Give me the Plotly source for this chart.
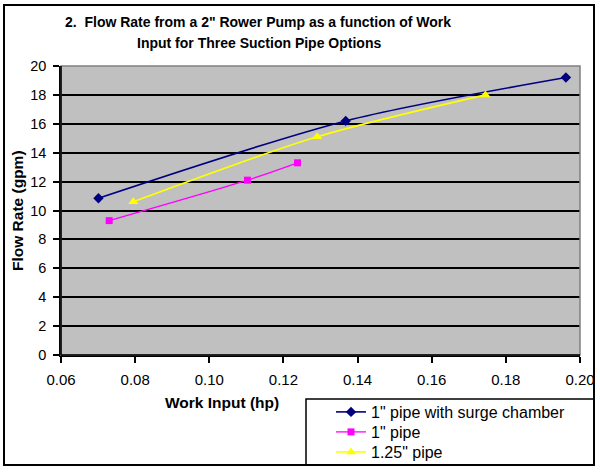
import plotly.graph_objects as go

# Data
surge_x = [0.0701, 0.1368, 0.1962]
surge_y = [10.85, 16.2, 19.2]

pipe1_x = [0.0730, 0.1103, 0.1238]
pipe1_y = [9.3, 12.1, 13.3]

pipe125_x = [0.0795, 0.1291, 0.1745]
pipe125_y = [10.6, 15.1, 18.0]

x_ticks = [0.06, 0.08, 0.10, 0.12, 0.14, 0.16, 0.18, 0.20]
y_ticks = [0, 2, 4, 6, 8, 10, 12, 14, 16, 18, 20]

title_lines = ['2.  Flow Rate from a 2" Rower Pump as a function of Work',
               'Input for Three Suction Pipe Options']

W, H = 600, 472
L, R, T, B = 61, 580, 66, 355


def px(xp):
    return (xp - L) / (R - L)


def py(yp):
    return (B - yp) / (B - T)


fig = go.Figure()
fig.add_trace(go.Scatter(
    x=surge_x, y=surge_y, name='1" pipe with surge chamber', mode="lines+markers",
    line=dict(color="#000080", width=1.6, shape="spline", smoothing=0.8),
    marker=dict(symbol="diamond", size=8, color="#000080"), legend="legend"))
fig.add_trace(go.Scatter(
    x=pipe1_x, y=pipe1_y, name='1" pipe', mode="lines+markers",
    line=dict(color="#FF00FF", width=1.3, shape="spline", smoothing=0.8),
    marker=dict(symbol="square", size=7, color="#FF00FF"), legend="legend2"))
fig.add_trace(go.Scatter(
    x=pipe125_x, y=pipe125_y, name='1.25" pipe', mode="lines+markers",
    line=dict(color="#FFFF00", width=1.6, shape="spline", smoothing=0.8),
    marker=dict(symbol="triangle-up", size=9, color="#FFFF00"), legend="legend3"))

font = "Arial, Liberation Sans, sans-serif"


def leg(row_y):
    return dict(
        x=px(331), y=py(row_y), xanchor="left", yanchor="middle",
        bgcolor="rgba(0,0,0,0)", borderwidth=0,
        font=dict(family=font, size=16, color="black"),
        itemwidth=30,
    )


fig.update_layout(
    width=W, height=H,
    margin=dict(l=L, r=W - R, t=T, b=H - B, pad=0, autoexpand=False),
    paper_bgcolor="white",
    plot_bgcolor="#C0C0C0",
    font=dict(family=font, size=12, color="black"),
    showlegend=True,
    legend=leg(412),
    legend2=leg(432),
    legend3=leg(452),
    xaxis=dict(
        range=[0.06, 0.20], tickvals=x_ticks, ticktext=[f"{v:.2f}" for v in x_ticks],
        showgrid=False, zeroline=False, automargin=False,
        showline=True, linecolor="black", linewidth=1.5,
        ticks="outside", ticklen=6, tickwidth=1.5, tickcolor="black",
        ticklabelstandoff=4,
        tickfont=dict(family=font, size=15, color="black"),
    ),
    yaxis=dict(
        range=[0, 20], tickvals=y_ticks, automargin=False,
        showgrid=True, gridcolor="black", gridwidth=1.5, zeroline=False,
        showline=True, linecolor="black", linewidth=1.5,
        ticks="outside", ticklen=6, tickwidth=1.5, tickcolor="black",
        ticklabelstandoff=4,
        tickfont=dict(family=font, size=14.5, color="black"),
    ),
    shapes=[
        dict(type="rect", xref="paper", yref="paper", x0=0, y0=0, x1=1, y1=1,
             line=dict(color="#808080", width=1.5), layer="above"),
        dict(type="line", xref="paper", yref="paper", x0=0, y0=0, x1=0, y1=1,
             line=dict(color="black", width=1.5), layer="above"),
        dict(type="line", xref="paper", yref="paper", x0=0, y0=0, x1=1, y1=0,
             line=dict(color="black", width=1.5), layer="above"),
        dict(type="rect", xref="paper", yref="paper",
             x0=px(4), y0=py(465), x1=px(594), y1=py(5),
             line=dict(color="black", width=2), layer="above"),
        dict(type="rect", xref="paper", yref="paper",
             x0=px(306), y0=py(465), x1=px(594), y1=py(399),
             line=dict(color="black", width=1.5), layer="above"),
    ],
    annotations=[
        dict(text=f"<b>{title_lines[0]}</b>",
             xref="paper", yref="paper", x=px(258), y=py(22), xanchor="center", yanchor="middle",
             showarrow=False, font=dict(family=font, size=14, color="black")),
        dict(text=f"<b>{title_lines[1]}</b>",
             xref="paper", yref="paper", x=px(259), y=py(43), xanchor="center", yanchor="middle",
             showarrow=False, font=dict(family=font, size=14, color="black")),
        dict(text="<b>Work Input (hp)</b>", xref="paper", yref="paper",
             x=px(222), y=py(403), xanchor="center", yanchor="middle",
             showarrow=False, font=dict(family=font, size=15.5, color="black")),
        dict(text="<b>Flow Rate (gpm)</b>", xref="paper", yref="paper",
             x=px(17), y=py(211), xanchor="center", yanchor="middle", textangle=-90,
             showarrow=False, font=dict(family=font, size=15.5, color="black")),
    ],
)

fig.write_html(
    "out.html",
    config={"displayModeBar": False},
    post_script="document.body.style.margin='0';document.body.style.overflow='hidden';",
)
